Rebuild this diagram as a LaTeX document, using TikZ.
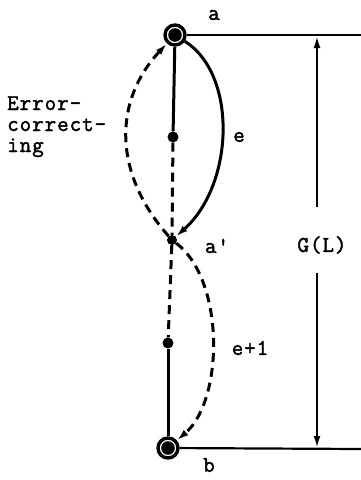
\documentclass[tikz,border=0pt]{standalone}
\usepackage{fontspec}
\setmonofont{Latin Modern Mono}[FakeBold=1.8, LetterSpace=4]
\usetikzlibrary{arrows.meta}

\tikzset{
  terminal/.style={circle, draw, line width=3.4pt, minimum size=20pt, inner sep=0pt,
    path picture={\fill (path picture bounding box.center) circle (6.8pt);}},
  junction/.style={circle, fill, inner sep=0pt, minimum size=11pt},
  lbl/.style={font=\ttfamily\fontsize{22.5}{21}\selectfont, inner sep=0pt},
  tip/.style={-{Latex[length=12pt,width=7pt]}},
  rail/.style={line width=2.2pt},
  edge/.style={line width=3pt},
  dashedge/.style={line width=3pt, dash pattern=on 9pt off 6pt},
}

\begin{document}
\begin{tikzpicture}[x=1pt, y=-1pt]
\useasboundingbox (0,0) rectangle (361,480);

\node[terminal] (a)  at (175,35)  {};
\node[junction] (d1) at (173,137) {};
\node[junction, minimum size=10pt] (ap) at (172,240) {};
\node[junction] (d2) at (168,343) {};
\node[terminal] (b)  at (168,448) {};

\coordinate (aR) at (361,35);
\coordinate (bR) at (361,449);
\coordinate (gT) at (317,36);
\coordinate (gA) at (317,207);
\coordinate (gB) at (317,273);
\coordinate (gD) at (317,448);

% labels
\node[lbl] (la)  at (214,15)  {a};
\node[lbl] (lap) at (217,246) {a'};
\node[lbl] (le)  at (239,137) {e};
\node[lbl] (le1) at (250,348) {e+1};
\node[lbl] (lb)  at (209,465) {b};
\node[lbl] (GL)  at (322,245) {G(L)};
\node[lbl, anchor=base west, align=left] (err) at (7,152)
  {Error-\\correct-\\ing};

% rails
\draw[rail] (a) -- (aR);
\draw[rail] (b) -- (bR);
\draw[rail, tip] (gA) -- (gT);
\draw[rail, tip] (gB) -- (gD);

% main line
\draw[edge] (a) -- (d1);
\draw[dashedge] (d1) -- (ap);
\draw[dashedge] (ap) -- (d2);
\draw[edge] (d2) -- (b);

% arcs
\draw[edge, tip] (a) .. controls (238,75) and (234,185) .. (ap);
\draw[dashedge, tip] (ap) .. controls (112,172) and (114,100) .. (a);
\draw[dashedge, tip] (ap) .. controls (225,280) and (224,400) .. (b);

\end{tikzpicture}
\end{document}
